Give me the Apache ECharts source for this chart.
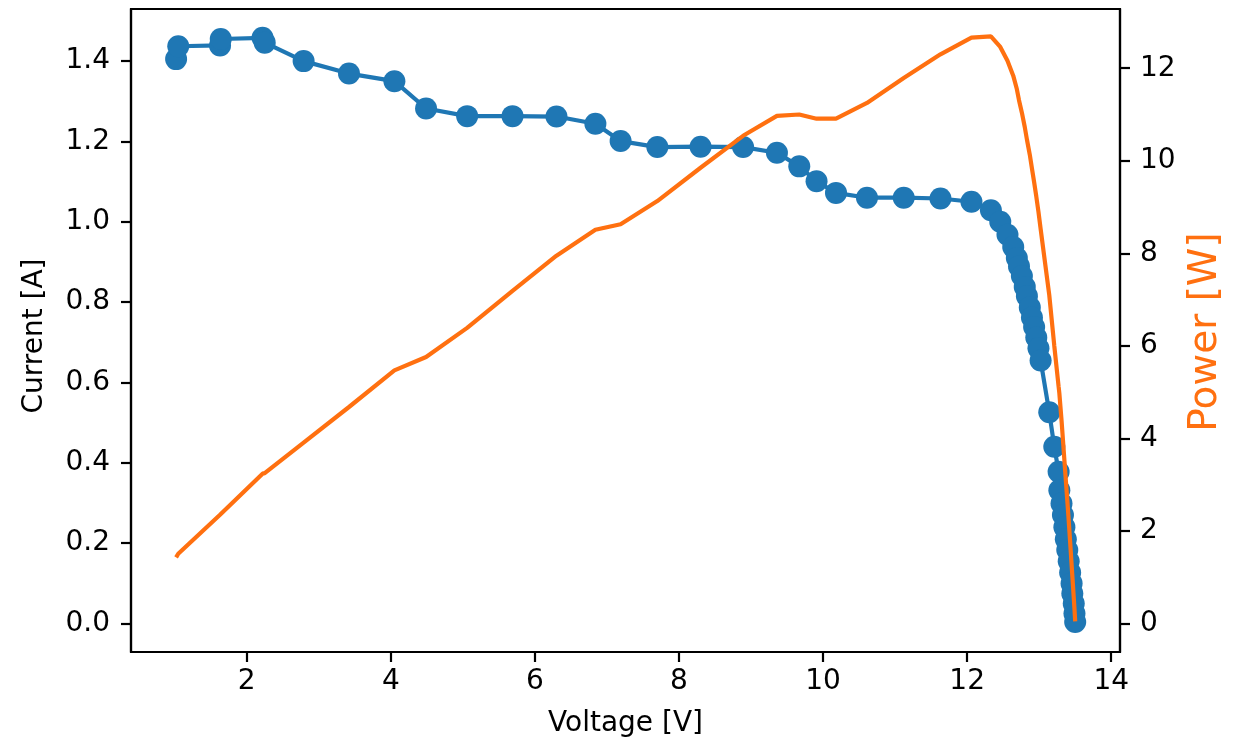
<!DOCTYPE html>
<html>
<head>
<meta charset="utf-8">
<script src="https://cdn.jsdelivr.net/npm/echarts@6/dist/echarts.min.js"></script>
<style>
html,body{margin:0;padding:0;background:#fff;}
#chart{width:1250px;height:742px;}
</style>
</head>
<body>
<div id="chart"></div>
<script>
// ---- data ----
const voltage = [1.02, 1.05, 1.63, 1.64, 2.22, 2.25, 2.79, 3.42, 4.05, 4.49, 5.06, 5.69, 6.30, 6.84, 7.19, 7.70, 8.30, 8.89, 9.36, 9.67, 9.91, 10.18, 10.61, 11.12, 11.63, 12.06, 12.33, 12.46, 12.56, 12.64, 12.69, 12.72, 12.76, 12.80, 12.83, 12.87, 12.90, 12.93, 12.96, 12.99, 13.02, 13.14, 13.21, 13.27, 13.28, 13.31, 13.33, 13.35, 13.37, 13.39, 13.41, 13.43, 13.45, 13.46, 13.48, 13.49, 13.50];
const current = [1.405, 1.437, 1.439, 1.455, 1.458, 1.446, 1.400, 1.369, 1.350, 1.282, 1.263, 1.263, 1.262, 1.244, 1.201, 1.186, 1.187, 1.186, 1.172, 1.138, 1.101, 1.072, 1.060, 1.060, 1.058, 1.050, 1.029, 1.000, 0.968, 0.937, 0.910, 0.889, 0.865, 0.838, 0.815, 0.787, 0.762, 0.738, 0.712, 0.685, 0.655, 0.526, 0.440, 0.378, 0.332, 0.299, 0.270, 0.240, 0.210, 0.183, 0.155, 0.127, 0.100, 0.075, 0.050, 0.025, 0.004];
const power = [1.43, 1.51, 2.35, 2.39, 3.24, 3.25, 3.91, 4.68, 5.47, 5.76, 6.39, 7.19, 7.95, 8.51, 8.63, 9.13, 9.85, 10.54, 10.97, 11.00, 10.91, 10.91, 11.25, 11.79, 12.30, 12.66, 12.69, 12.46, 12.16, 11.84, 11.55, 11.31, 11.04, 10.73, 10.46, 10.13, 9.83, 9.54, 9.23, 8.90, 8.53, 7.10, 6.00, 5.12, 4.98, 4.40, 3.97, 3.53, 3.10, 2.67, 2.23, 1.76, 1.28, 1.04, 0.56, 0.32, 0.05];
const voltageTicks = [2, 4, 6, 8, 10, 12, 14];
const currentTicks = [0.0, 0.2, 0.4, 0.6, 0.8, 1.0, 1.2, 1.4];
const powerTicks = [0, 2, 4, 6, 8, 10, 12];
const xLabel = 'Voltage [V]';
const yLabel = 'Current [A]';
const y2Label = 'Power [W]';

const BLUE = '#1f77b4';
const ORANGE = '#ff7010';
const FONT = 'DejaVu Sans';

const chart = echarts.init(document.getElementById('chart'), null, {renderer: 'canvas'});

const axisCommon = {
  splitLine: {show: false},
  axisLine: {show: true, onZero: false, lineStyle: {color: '#000', width: 2.2}},
  axisTick: {show: true, inside: false, length: 10, lineStyle: {color: '#000', width: 2.2}},
};

const option = {
  animation: false,
  backgroundColor: '#fff',
  grid: {left: 131, right: 130, top: 9, bottom: 90, show: true, borderColor: '#000', borderWidth: 2.2, backgroundColor: 'transparent'},
  xAxis: Object.assign({}, axisCommon, {
    type: 'value', min: 0.394, max: 14.122,
    axisTick: Object.assign({}, axisCommon.axisTick, {customValues: voltageTicks}),
    axisLabel: {customValues: voltageTicks, margin: 16, color: '#000', fontFamily: FONT, fontSize: 28},
  }),
  yAxis: [
    Object.assign({}, axisCommon, {
      type: 'value', position: 'left', min: -0.0708, max: 1.5297,
      axisTick: Object.assign({}, axisCommon.axisTick, {customValues: currentTicks}),
      axisLabel: {customValues: currentTicks, margin: 21, color: '#000', fontFamily: FONT, fontSize: 28,
        formatter: v => v.toFixed(1)},
    }),
    Object.assign({}, axisCommon, {
      type: 'value', position: 'right', min: -0.614, max: 13.28,
      axisTick: Object.assign({}, axisCommon.axisTick, {customValues: powerTicks}),
      axisLabel: {customValues: powerTicks, margin: 20, color: '#000', fontFamily: FONT, fontSize: 28,
        formatter: v => String(Math.round(v))},
    }),
  ],
  graphic: [
    {type: 'text', x: 625.5, y: 724, style: {text: xLabel, fill: '#000', font: '28px "DejaVu Sans"', textAlign: 'center', textVerticalAlign: 'middle'}},
    {type: 'text', x: 35, y: 336, rotation: Math.PI / 2, style: {text: yLabel, fill: '#000', font: '28px "DejaVu Sans"', textAlign: 'center', textVerticalAlign: 'middle'}},
    {type: 'text', x: 1205.5, y: 332, rotation: Math.PI / 2, style: {text: y2Label, fill: ORANGE, font: '39px "DejaVu Sans"', textAlign: 'center', textVerticalAlign: 'middle'}},
  ],
  series: [
    {
      type: 'line', yAxisIndex: 0,
      data: voltage.map((v, i) => [v, current[i]]),
      symbol: 'circle', symbolSize: 22, showSymbol: true,
      itemStyle: {color: BLUE, borderWidth: 0},
      lineStyle: {color: BLUE, width: 4.2},
      z: 2,
    },
    {
      type: 'line', yAxisIndex: 1,
      data: voltage.map((v, i) => [v, power[i]]),
      showSymbol: false, symbol: 'none',
      lineStyle: {color: ORANGE, width: 4.2},
      z: 3,
    },
  ],
};
chart.setOption(option);
</script>
</body>
</html>
